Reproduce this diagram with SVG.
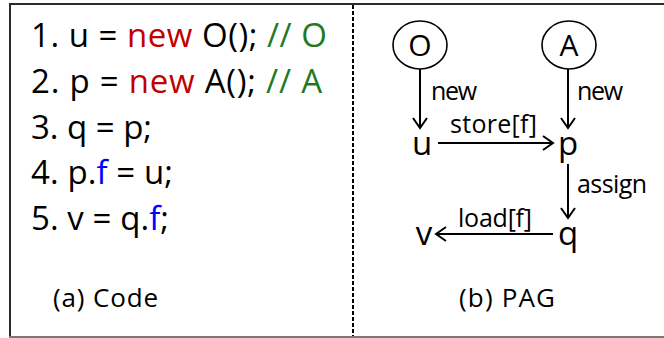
<svg xmlns="http://www.w3.org/2000/svg" width="664" height="338" viewBox="0 0 664 338">
  <defs>
    <marker id="chevron" markerUnits="userSpaceOnUse" markerWidth="24" markerHeight="24" viewBox="-12 -12 24 24" refX="0" refY="0" orient="auto">
      <path d="M-10,-7 L0,0 L-10,7" fill="none" stroke="#000" stroke-width="2"/>
    </marker>
  </defs>
  <style>
    text { font-family: "Open Sans", "Noto Sans", "Liberation Sans", sans-serif; fill: #000; }
    .code { font-size: 33px; }
    .kw { fill: #C00000; }
    .cm { fill: #1E7B1E; }
    .fld { fill: #0000FF; }
    .cap { font-size: 26px; }
    .var { font-size: 33px; text-anchor: middle; }
    .obj { font-size: 30px; text-anchor: middle; }
    .lbl { font-size: 25px; }
    .edge { stroke: #000; stroke-width: 2; fill: none; marker-end: url(#chevron); }
    .node { fill: #fff; stroke: #000; stroke-width: 1.6; }
  </style>

  <rect width="664" height="338" fill="#fff"/>

  <!-- frame -->
  <g id="frame">
    <line x1="9" y1="4" x2="664" y2="4" stroke="#2b2b2b" stroke-width="2"/>
    <line x1="10" y1="3" x2="10" y2="338" stroke="#2b2b2b" stroke-width="2"/>
    <line x1="9" y1="337" x2="664" y2="337" stroke="#7a7a7a" stroke-width="2"/>
    <line x1="353" y1="5" x2="353" y2="336" stroke="#000" stroke-width="2" stroke-dasharray="4 2"/>
  </g>

  <!-- (a) source listing -->
  <g id="code">
    <text class="code" x="31" y="47" textLength="296" lengthAdjust="spacing">1. u = <tspan class="kw">new</tspan> O(); <tspan class="cm">// O</tspan></text>
    <text class="code" x="31" y="93" textLength="291" lengthAdjust="spacing">2. p = <tspan class="kw">new</tspan> A(); <tspan class="cm">// A</tspan></text>
    <text class="code" x="31" y="139" textLength="121" lengthAdjust="spacing">3. q = p;</text>
    <text class="code" x="31" y="184" textLength="142" lengthAdjust="spacing">4. p.<tspan class="fld">f</tspan> = u;</text>
    <text class="code" x="31" y="230" textLength="138" lengthAdjust="spacing">5. v = q.<tspan class="fld">f</tspan>;</text>
    <text class="cap" x="53" y="307" textLength="105" lengthAdjust="spacing">(a) Code</text>
  </g>

  <!-- (b) pointer assignment graph -->
  <g id="connectors">
    <line class="edge" x1="420" y1="69" x2="420" y2="128"/>
    <line class="edge" x1="568" y1="69" x2="568" y2="128"/>
    <line class="edge" x1="438" y1="143" x2="553" y2="143"/>
    <line class="edge" x1="568" y1="164" x2="568" y2="218"/>
    <line class="edge" x1="553" y1="234" x2="436" y2="234"/>
    <text class="lbl" x="431" y="100" textLength="46" lengthAdjust="spacing">new</text>
    <text class="lbl" x="577" y="100" textLength="46" lengthAdjust="spacing">new</text>
    <text class="lbl" x="450" y="133" textLength="87" lengthAdjust="spacing">store[f]</text>
    <text class="lbl" x="577" y="193" textLength="70" lengthAdjust="spacing">assign</text>
    <text class="lbl" x="458" y="227" textLength="74" lengthAdjust="spacing">load[f]</text>
  </g>

  <g id="node-O">
    <ellipse class="node" cx="420" cy="45" rx="27" ry="24"/>
    <text class="obj" x="420" y="56">O</text>
  </g>
  <g id="node-A">
    <ellipse class="node" cx="569" cy="45" rx="27" ry="24"/>
    <text class="obj" x="569" y="56">A</text>
  </g>
  <g id="node-u"><text class="var" x="422" y="155">u</text></g>
  <g id="node-p"><text class="var" x="568" y="155">p</text></g>
  <g id="node-q"><text class="var" x="568" y="245">q</text></g>
  <g id="node-v"><text class="var" x="424" y="245">v</text></g>

  <text class="cap" x="459" y="307" textLength="96" lengthAdjust="spacing">(b) PAG</text>
</svg>
